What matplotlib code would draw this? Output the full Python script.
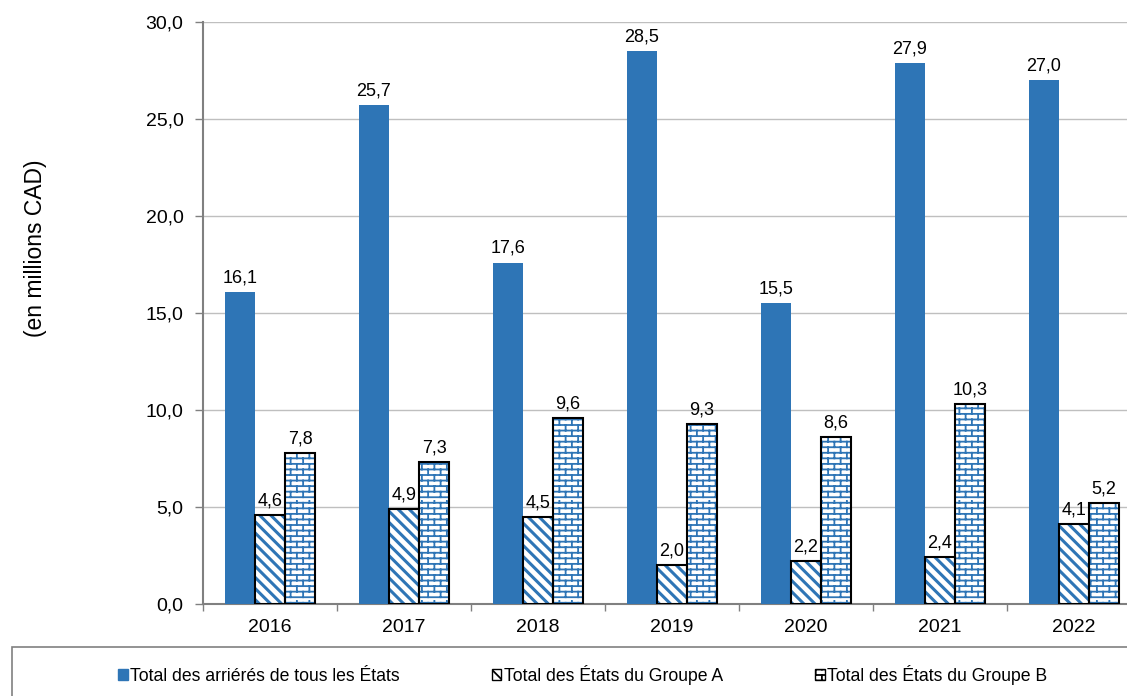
import warnings
import numpy as np
import matplotlib
matplotlib.use("Agg")
import matplotlib.pyplot as plt
from matplotlib import hatch as mhatch
from matplotlib.path import Path
from matplotlib.patches import Patch, Rectangle

warnings.filterwarnings("ignore")

years = ["2016", "2017", "2018", "2019", "2020", "2021", "2022"]
total_all = [16.1, 25.7, 17.6, 28.5, 15.5, 27.9, 27.0]
group_a = [4.6, 4.9, 4.5, 2.0, 2.2, 2.4, 4.1]
group_b = [7.8, 7.3, 9.6, 9.3, 8.6, 10.3, 5.2]
labels = ["Total des arriérés de tous les États",
          "Total des États du Groupe A",
          "Total des États du Groupe B"]

blue = "#2E75B6"


# brick hatch ('b'), not part of matplotlib
class BrickHatch(mhatch.HatchPatternBase):
    def __init__(self, hatch, density):
        n = hatch.count('b')
        self.rows = n * 3 * density
        self.cols = n * 8
        self.num_vertices = self.rows * 2 + self.rows * self.cols * 2

    def set_vertices_and_codes(self, vertices, codes):
        k = 0
        for i in range(self.rows):
            y0 = (i + 0.5) / self.rows
            y1 = (i + 1.5) / self.rows
            vertices[k] = (0.0, y0)
            vertices[k + 1] = (1.0, y0)
            codes[k] = Path.MOVETO
            codes[k + 1] = Path.LINETO
            k += 2
            for j in range(self.cols):
                x = (j + 0.5 * (i % 2) + 0.25) / self.cols
                vertices[k] = (x, y0)
                vertices[k + 1] = (x, min(y1, 1.0))
                codes[k] = Path.MOVETO
                codes[k + 1] = Path.LINETO
                k += 2


mhatch._hatch_types.append(BrickHatch)

plt.rcParams['font.family'] = ['Liberation Sans', 'DejaVu Sans']

fig = plt.figure(figsize=(11.27, 6.96), dpi=100)
ax = fig.add_axes([0.1801, 0.1322, 1.0124 - 0.1801, 0.9684 - 0.1322])

x = np.arange(len(years))
w = 0.225

b0 = ax.bar(x - w, total_all, w, color=blue, zorder=3)

plt.rcParams['hatch.color'] = blue
# group A: diagonal stripes
plt.rcParams['hatch.linewidth'] = 2.2
ba = ax.bar(x, group_a, w, color="white", edgecolor=blue, linewidth=0,
            hatch='\\\\\\', zorder=3)
for p in ba:
    if hasattr(p, "set_hatch_linewidth"):
        p.set_hatch_linewidth(2.2)
# group B: bricks
plt.rcParams['hatch.linewidth'] = 1.3
bb = ax.bar(x + w, group_b, w, color="white", edgecolor=blue, linewidth=0,
            hatch='b', zorder=3)
for p in bb:
    if hasattr(p, "set_hatch_linewidth"):
        p.set_hatch_linewidth(1.3)
# black outlines
ax.bar(x, group_a, w, fill=False, edgecolor="black", linewidth=1.5, zorder=4)
ax.bar(x + w, group_b, w, fill=False, edgecolor="black", linewidth=1.5, zorder=4)

for xs, vals in [(x - w, total_all), (x, group_a), (x + w, group_b)]:
    for xi, v in zip(xs, vals):
        ax.annotate(f"{v:.1f}".replace(".", ","), (xi, v), xytext=(0, 4),
                    textcoords="offset points", ha="center", va="bottom",
                    fontsize=13, color="black", zorder=5)

ax.set_ylim(0, 30)
ax.set_xlim(-0.5, len(years) - 0.5)
ax.set_yticks(np.arange(0, 31, 5))
ax.set_yticklabels([f"{v:.1f}".replace(".", ",") for v in np.arange(0, 31, 5)])
ax.set_xticks(x)
ax.set_xticklabels(years)
ax.set_xticks(np.arange(-0.5, len(years), 1), minor=True)
ax.tick_params(axis='x', which='major', length=0, labelsize=14, pad=11)
ax.tick_params(axis='x', which='minor', length=5, width=1, color="#808080",
               direction='out')
ax.tick_params(axis='y', length=6, width=1, color="#808080", labelsize=14,
               pad=8)

ax.grid(axis='y', color="#BFBFBF", linewidth=1, zorder=0)
ax.set_axisbelow(True)
for s in ["top", "right"]:
    ax.spines[s].set_visible(False)
for s in ["left", "bottom"]:
    ax.spines[s].set_color("#808080")
    ax.spines[s].set_linewidth(1.5)

fig.text(36 / 1127, 1 - 248 / 696, "(en millions CAD)", rotation=90,
         ha="center", va="center", fontsize=16.5)

# legend box
fig.patches.append(Rectangle((12 / 1127, -0.1), 1.2, 0.1 + 1 - 647 / 696,
                             transform=fig.transFigure, fill=False,
                             edgecolor="#808080", linewidth=1.2))

handles = [Patch(facecolor=blue, edgecolor=blue),
           Patch(facecolor="white", edgecolor="black", hatch='\\\\\\'),
           Patch(facecolor="white", edgecolor="black", hatch='b')]
fig.legend(handles, labels, loc="center", bbox_to_anchor=(0.517, 1 - 675 / 696),
           ncol=3, frameon=False, fontsize=12.7, handlelength=0.55,
           handleheight=0.55, handletextpad=0.15, columnspacing=5.2)

fig.savefig("out.png", dpi=100)
